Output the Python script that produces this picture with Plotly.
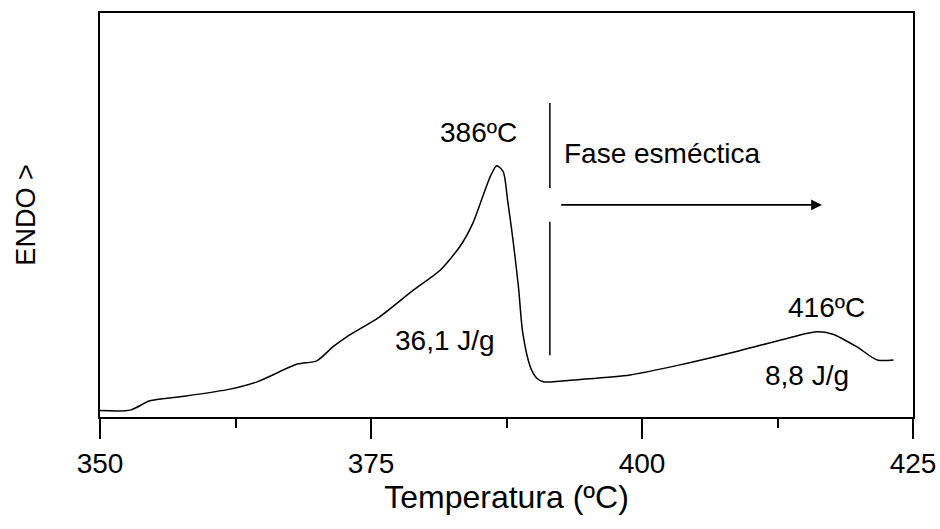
import plotly.graph_objects as go

# DSC curve (temperature in ºC, heat flow in arbitrary units, ENDO up)
temperature = [350.0, 352.8, 354.6, 357.4, 362.0, 364.5, 368.2, 370.0, 371.5, 372.8,
               375.8, 378.9, 381.4, 383.2, 384.4, 385.3, 386.0, 386.6, 387.2, 387.6,
               388.1, 388.6, 389.0, 389.7, 390.3, 390.9, 394.3, 398.9, 403.5, 409.0,
               413.0, 416.1, 417.6, 419.8, 421.7, 423.2]
heat_flow = [1.6, 1.7, 4.0, 5.0, 6.9, 8.7, 13.1, 13.9, 17.4, 19.9,
             24.8, 31.4, 36.4, 42.2, 48.0, 54.5, 59.5, 62.2, 60.7, 53.7,
             43.8, 32.3, 20.8, 12.4, 9.6, 8.7, 9.3, 10.4, 12.9, 16.4,
             19.2, 21.1, 20.5, 17.4, 14.1, 14.1]

# Phase boundary marker (broken vertical line)
boundary_x = [391.5, 391.5, None, 391.5, 391.5]
boundary_y = [77.7, 56.7, None, 48.3, 15.3]

x_ticks = [350, 375, 400, 425]
minor_ticks = [362.5, 387.5, 412.5]

FONT = "Arial, Liberation Sans, sans-serif"

fig = go.Figure()
fig.add_trace(go.Scatter(x=temperature, y=heat_flow, mode="lines",
                         line=dict(color="black", width=1.5, shape="spline", smoothing=0.7),
                         showlegend=False, hoverinfo="skip"))
fig.add_trace(go.Scatter(x=boundary_x, y=boundary_y, mode="lines",
                         line=dict(color="black", width=1.5), showlegend=False,
                         hoverinfo="skip"))

labels = [
    ("386ºC", 384.9, 70.5),
    ("36,1 J/g", 381.8, 19.0),
    ("416ºC", 417.0, 27.0),
    ("8,8 J/g", 415.2, 10.2),
]
for txt, lx, ly in labels:
    fig.add_annotation(x=lx, y=ly, text=txt, showarrow=False,
                       font=dict(family=FONT, size=28, color="black"))

fig.add_annotation(x=392.6, y=65.3, text="Fase esméctica", showarrow=False,
                   xanchor="left", font=dict(family=FONT, size=28, color="black"))
fig.add_annotation(x=416.6, y=52.5, ax=392.4, ay=52.5, axref="x", ayref="y",
                   xref="x", yref="y", text="", showarrow=True,
                   arrowhead=2, arrowsize=1.2, arrowwidth=1.8, arrowcolor="black")

fig.update_xaxes(range=[350, 425], tickvals=x_ticks, ticktext=[str(v) for v in x_ticks],
                 ticks="outside", ticklen=20, tickwidth=2, tickcolor="black",
                 minor=dict(tickvals=minor_ticks, ticks="outside", ticklen=9,
                            tickwidth=1.5, tickcolor="black"),
                 showline=True, linecolor="black", linewidth=2, mirror=True,
                 showgrid=False, zeroline=False, automargin=False,
                 tickfont=dict(family=FONT, size=28, color="black"),
                 title=dict(text="Temperatura (ºC)", standoff=2,
                            font=dict(family=FONT, size=32, color="black")))
fig.update_yaxes(range=[0, 100], showticklabels=False, ticks="",
                 showline=True, linecolor="black", linewidth=2, mirror=True,
                 showgrid=False, zeroline=False, automargin=False,
                 title=dict(text="ENDO >", standoff=55,
                            font=dict(family=FONT, size=27, color="black")))

fig.update_layout(width=940, height=528, plot_bgcolor="white", paper_bgcolor="white",
                  margin=dict(l=100, r=27, t=13, b=111), hovermode=False)

fig.write_html("out.html", config={"displayModeBar": False},
               post_script="document.body.style.margin='0';")
